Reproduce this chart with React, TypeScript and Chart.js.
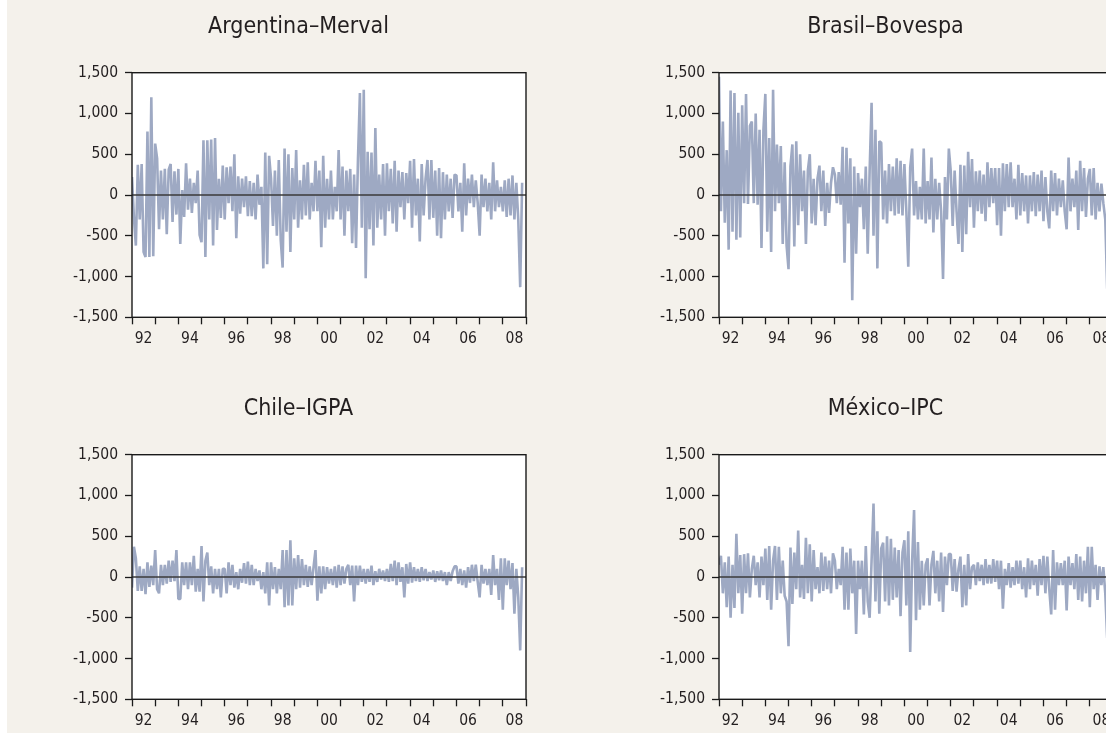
import React, { useEffect, useRef } from 'react';
import { Chart, registerables } from 'chart.js';

Chart.register(...registerables);

const startYear = 1992;
const endYear = 2009;
const perYear = 12;

const xTickLabels = ['92', '', '94', '', '96', '', '98', '', '00', '', '02', '', '04', '', '06', '', '08'];
const yTickValues = [-1500, -1000, -500, 0, 500, 1000, 1500];

const titleArgentina = 'Argentina–Merval';
const titleBrasil = 'Brasil–Bovespa';
const titleChile = 'Chile–IGPA';
const titleMexico = 'México–IPC';

const merval = [
  220, -280, -620, 370, -300, 380, -700, -760, 780, -760, 1200, -750,
  630, 450, -420, 300, -300, 320, -480, 310, 380, -330, 290, -240,
  320, -600, 60, -270, 390, -180, 200, -220, 150, -100, 300, -490,
  -580, 670, -760, 670, -300, 680, -620, 700, -430, 200, -280, 360,
  -300, 340, -100, 350, -200, 500, -530, 230, -230, 200, -150, 230,
  -260, 170, -260, 150, -300, 250, -120, 100, -900, 520, -850, 480,
  200, -380, 300, -500, 430, -550, -890, 570, -450, 500, -700, 330,
  -300, 550, -400, 180, -300, 370, -250, 400, -300, 150, -200, 420,
  -200, 300, -640, 480, -400, 200, -300, 300, -300, 100, -200, 550,
  -300, 350, -500, 300, -200, 320, -590, 250, -650, 440, 1250, -400,
  1290, -1020, 530, -420, 520, -620, 820, -400, 250, -300, 380, -500,
  390, -200, 320, -350, 420, -450, 300, -150, 280, -300, 270, -100,
  420, -400, 440, -250, 200, -570, 380, -250, 200, 430, -300, 430,
  -280, 300, -500, 330, -530, 280, -300, 250, -200, 200, -280, 250,
  240, -200, 150, -450, 390, -250, 200, -100, 250, -150, 180, -100,
  -500, 250, -150, 200, -200, 150, -300, 400, -200, 180, -150, 100,
  -200, 180, -270, 200, -250, 240, -300, 150, -300, -1130, 150,
];

const bovespa = [
  1450, -200, 900, -340, 550, -670, 1280, -450, 1250, -550, 1010, -520,
  1100, -100, 1240, -110, 850, 900, -100, 1000, -120, 800, -650, 800,
  1240, -450, 700, -700, 1290, -200, 620, -100, 600, -600, 400, -620,
  -910, 350, 620, -630, 660, -370, 500, -200, 300, -600, 300, 500,
  -350, 200, -370, 200, 360, -200, 300, -380, 150, -220, 150, 340,
  250, -100, 280, -120, 590, -830, 580, -350, 450, -1290, 350, -720,
  270, -150, 200, -420, 350, -720, 300, 1130, -500, 800, -900, 660,
  640, -300, 300, -350, 380, -200, 350, -250, 450, -230, 420, -250,
  380, -200, -880, 340, 570, -250, 170, -300, 100, -300, 570, -350,
  170, -300, 460, -460, 200, -300, 150, -200, -1030, 220, -300, 570,
  290, -380, 300, -200, -600, 370, -700, 360, -480, 530, -150, 440,
  -400, 290, -200, 300, -230, 250, -320, 400, -150, 330, -100, 330,
  -370, 330, -500, 390, -200, 380, -150, 400, -150, 200, -300, 370,
  -250, 270, -200, 240, -350, 240, -200, 280, -260, 250, -200, 300,
  -320, 220, -200, -410, 300, -200, 270, -250, 200, -150, 180, -200,
  -420, 460, -200, 200, -150, 300, -430, 420, -200, 330, -270, 200,
  320, -250, 330, -300, 150, -200, 140, -100, -300, -1150, 150,
];

const igpa = [
  -130, 370, 230, -170, 130, -170, 100, -210, 180, -120, 140, -100,
  330, -150, -200, 150, -100, 150, -80, 200, -60, 200, -50, 330,
  -270, -270, 180, -100, 180, -150, 180, -100, 260, -180, 100, -180,
  380, -300, 200, 300, -100, 130, -200, 100, -150, 100, -250, 100,
  100, -200, 180, -100, 150, -130, 60, -150, 100, -70, 170, -80,
  190, -100, 150, -100, 100, -50, 80, -150, 60, -200, 180, -350,
  180, -150, 120, -200, 100, -150, 330, -370, 330, -350, 450, -350,
  230, -150, 270, -130, 220, -100, 150, -120, 130, -100, 120, 330,
  -290, 130, -200, 130, -150, 120, -80, 100, -100, 130, -130, 150,
  -100, 130, -80, 100, 150, -100, 140, -300, 140, -100, 140, -60,
  100, -80, 100, -60, 140, -100, 70, -60, 100, -30, 80, -50,
  100, -60, 160, -50, 200, -100, 180, -60, 120, -250, 160, -80,
  180, -70, 120, -50, 100, -60, 120, -40, 100, -50, 60, -30,
  80, -60, 70, -40, 80, -50, 60, -100, 60, -50, 70, 130,
  130, -80, 100, -100, 80, -130, 120, -70, 150, -50, 150, -60,
  -250, 150, -80, 100, -100, 100, -220, 270, -100, 100, -280, 230,
  -400, 230, -100, 200, -150, 170, -450, 100, -250, -900, 120,
];

const ipc = [
  150, 260, -200, 180, -370, 250, -500, 150, -380, 530, -200, 270,
  -450, 280, -200, 290, -250, 100, 260, -100, 180, -250, 250, -100,
  350, -280, 380, -400, 200, 380, -280, 370, -200, 200, -230, -300,
  -850, 360, -330, 300, -150, 570, -250, 150, -270, 480, -200, 400,
  -300, 330, -150, 120, -200, 300, -170, 250, -150, 200, -200, 290,
  200, -150, 100, -100, 370, -400, 300, -400, 350, -200, 200, -700,
  200, -150, 200, -460, 380, -300, -500, 200, 900, -300, 560, -450,
  350, 420, -300, 500, -350, 470, -280, 360, -250, 330, -480, 300,
  450, -350, 560, -920, 200, 820, -530, 430, -400, 200, -350, 150,
  230, -350, 150, 320, -200, 200, -300, 300, -430, 250, -100, 280,
  280, -170, 220, -180, 100, 250, -370, 150, -350, 280, -150, 120,
  150, -100, 180, -50, 150, -100, 220, -80, 150, -80, 220, -60,
  200, -150, 200, -390, 100, -100, 170, -130, 120, -100, 200, -80,
  200, -150, 120, -250, 230, -150, 200, -100, 150, -230, 220, -100,
  260, -200, 250, -150, -460, 330, -400, 180, -100, 170, -100, 200,
  -410, 250, -100, 170, -150, 280, -280, 250, -300, 200, -200, 370,
  -370, 370, -150, 150, -280, 130, -100, 120, -200, -750, 100,
];

const FONT = "'DejaVu Sans Condensed', 'DejaVu Sans', sans-serif";
const TEXT = '#231f20';
const AXIS = '#1a1a1a';
const LINE = '#9ea9c3';
const BEIGE = '#f4f1eb';

const CANVAS_W = 540;
const CANVAS_H = 382;

const framePlugin = {
  id: 'frame',
  beforeDraw(chart: any) {
    const { ctx, chartArea } = chart;
    ctx.save();
    ctx.fillStyle = '#ffffff';
    ctx.fillRect(chartArea.left, chartArea.top, chartArea.right - chartArea.left, chartArea.bottom - chartArea.top);
    ctx.restore();
  },
  afterDatasetsDraw(chart: any) {
    const { ctx, chartArea } = chart;
    const y0 = chart.scales.y.getPixelForValue(0);
    ctx.save();
    ctx.strokeStyle = '#3a3a3a';
    ctx.lineWidth = 1.3;
    ctx.beginPath();
    ctx.moveTo(chartArea.left, y0);
    ctx.lineTo(chartArea.right, y0);
    ctx.stroke();
    ctx.strokeStyle = AXIS;
    ctx.lineWidth = 1.4;
    ctx.strokeRect(chartArea.left, chartArea.top, chartArea.right - chartArea.left, chartArea.bottom - chartArea.top);
    ctx.restore();
  },
};

function Panel({ title, values, left, top }: { title: string; values: number[]; left: number; top: number }) {
  const ref = useRef<HTMLCanvasElement | null>(null);
  useEffect(() => {
    if (!ref.current) return;
    const points = values.map((v, i) => ({ x: startYear + i / perYear, y: v }));
    const chart = new Chart(ref.current, {
      type: 'line',
      data: {
        datasets: [
          {
            data: points,
            xAxisID: 'xd',
            yAxisID: 'y',
            borderColor: LINE,
            borderWidth: 2.6,
            pointRadius: 0,
            tension: 0,
            fill: false,
            borderJoinStyle: 'bevel',
          } as any,
        ],
      },
      options: {
        animation: false,
        responsive: false,
        devicePixelRatio: 1,
        events: [],
        layout: { padding: { left: 64, right: 21, top: 0, bottom: 0 } },
        plugins: {
          legend: { display: false },
          tooltip: { enabled: false },
          title: {
            display: true,
            text: title,
            color: TEXT,
            font: { family: FONT, size: 23, weight: 'normal' as any },
            padding: { top: 13, bottom: 32.1 },
          },
        },
        scales: {
          xd: { type: 'linear', min: startYear, max: endYear, display: false },
          x: {
            type: 'category',
            labels: xTickLabels,
            offset: true,
            position: 'bottom',
            grid: {
              offset: true,
              drawOnChartArea: false,
              drawTicks: true,
              tickLength: 7,
              tickColor: AXIS,
              tickWidth: 1.3,
              color: AXIS,
            },
            border: { display: false },
            ticks: {
              autoSkip: false,
              maxRotation: 0,
              minRotation: 0,
              padding: 5,
              color: TEXT,
              font: { family: FONT, size: 15.5 },
            },
            afterFit: (s: any) => {
              s.height = 64.7;
            },
          } as any,
          y: {
            type: 'linear',
            min: -1500,
            max: 1500,
            afterBuildTicks: (s: any) => {
              s.ticks = yTickValues.map((v) => ({ value: v }));
            },
            grid: {
              drawOnChartArea: false,
              drawTicks: true,
              tickLength: 7,
              tickColor: AXIS,
              tickWidth: 1.3,
              color: AXIS,
            },
            border: { display: false },
            ticks: {
              padding: 7,
              color: TEXT,
              font: { family: FONT, size: 15.5 },
              callback: (v: any) => Number(v).toLocaleString('en-US'),
            },
            afterFit: (s: any) => {
              s.width = 61;
            },
          } as any,
        },
      },
      plugins: [framePlugin],
    });
    return () => chart.destroy();
  }, [title, values]);
  return (
    <canvas
      ref={ref}
      width={CANVAS_W}
      height={CANVAS_H}
      style={{ position: 'absolute', left, top, width: CANVAS_W, height: CANVAS_H }}
    />
  );
}

export default function App() {
  return (
    <div
      style={{
        position: 'fixed',
        left: 0,
        top: 0,
        width: 1106,
        height: 733,
        overflow: 'hidden',
        background: '#ffffff',
      }}
    >
      <div style={{ position: 'absolute', left: 7, top: 0, right: 0, bottom: 0, background: BEIGE }} />
      <Panel title={titleArgentina} values={merval} left={7} top={0} />
      <Panel title={titleBrasil} values={bovespa} left={594} top={0} />
      <Panel title={titleChile} values={igpa} left={7} top={382} />
      <Panel title={titleMexico} values={ipc} left={594} top={382} />
    </div>
  );
}
